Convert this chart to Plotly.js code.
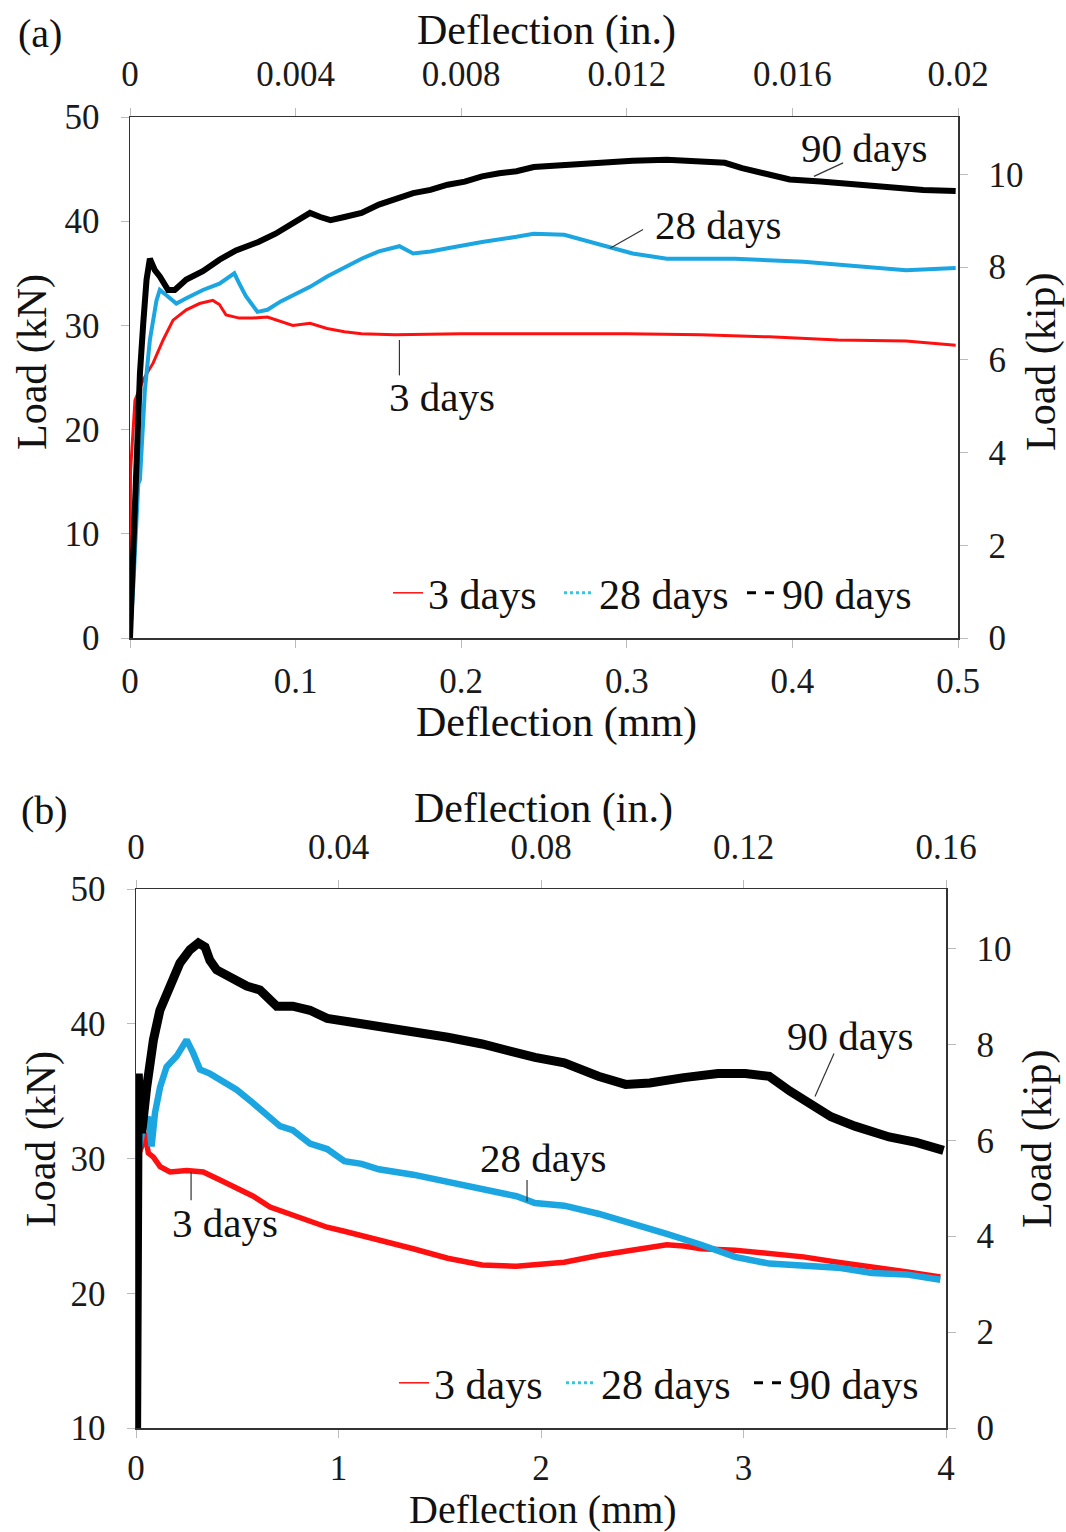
<!DOCTYPE html>
<html>
<head>
<meta charset="utf-8">
<script src="https://cdn.plot.ly/plotly-3.0.1.min.js"></script>
<style>html,body{margin:0;padding:0;background:#fff;}</style>
</head>
<body>
<div id="chart" style="width:1066px;height:1532px;"></div>
<script>
// ---------- Data: panel (a) ----------
const a_x_3d = [0, 0.0003, 0.003, 0.008, 0.014, 0.020, 0.026, 0.034, 0.042, 0.050, 0.054, 0.058, 0.066, 0.074, 0.083, 0.0983, 0.1087, 0.119, 0.1295, 0.1398, 0.16, 0.2, 0.25, 0.3, 0.3448, 0.386, 0.4275, 0.4686, 0.4986];
const a_y_3d = [0, 16, 22.8, 24.8, 26.4, 28.6, 30.5, 31.5, 32.1, 32.4, 32.0, 31.0, 30.7, 30.7, 30.8, 30.0, 30.2, 29.7, 29.4, 29.2, 29.1, 29.2, 29.2, 29.2, 29.1, 28.9, 28.6, 28.5, 28.1];

const a_x_28d = [0, 0.002, 0.005, 0.006, 0.009, 0.012, 0.016, 0.018, 0.022, 0.028, 0.034, 0.044, 0.054, 0.063, 0.066, 0.070, 0.077, 0.083, 0.091, 0.0983, 0.1087, 0.119, 0.1295, 0.1398, 0.1503, 0.1627, 0.171, 0.1814, 0.1918, 0.2126, 0.2334, 0.2438, 0.2622, 0.2787, 0.2911, 0.3035, 0.3242, 0.3653, 0.4067, 0.448, 0.4686, 0.4986];
const a_y_28d = [0, 5, 14.8, 15.2, 23.8, 28.6, 32.4, 33.4, 32.9, 32.1, 32.6, 33.4, 34.0, 35.0, 34.0, 32.8, 31.3, 31.5, 32.3, 32.9, 33.7, 34.7, 35.6, 36.4, 37.1, 37.6, 36.9, 37.1, 37.4, 38.0, 38.5, 38.8, 38.7, 38.0, 37.4, 36.9, 36.4, 36.4, 36.1, 35.6, 35.3, 35.5];

const a_x_90d = [0, 0.002, 0.004, 0.006, 0.008, 0.010, 0.012, 0.015, 0.018, 0.023, 0.027, 0.034, 0.044, 0.054, 0.064, 0.0775, 0.0879, 0.0983, 0.1087, 0.1149, 0.1211, 0.1295, 0.1398, 0.1503, 0.1606, 0.171, 0.1814, 0.1918, 0.2022, 0.2126, 0.223, 0.2334, 0.2438, 0.2622, 0.2828, 0.3035, 0.3242, 0.3447, 0.3592, 0.3696, 0.3861, 0.3984, 0.417, 0.4377, 0.4583, 0.479, 0.4986];
const a_y_90d = [0, 9.4, 19.0, 25.4, 30.2, 34.4, 36.4, 35.3, 34.7, 33.4, 33.4, 34.4, 35.2, 36.3, 37.2, 38.0, 38.8, 39.8, 40.8, 40.4, 40.1, 40.4, 40.8, 41.6, 42.2, 42.7, 43.0, 43.5, 43.8, 44.3, 44.6, 44.8, 45.2, 45.4, 45.6, 45.8, 45.9, 45.7, 45.6, 45.1, 44.4, 44.0, 43.8, 43.5, 43.2, 43.0, 42.9];

// ---------- Data: panel (b) ----------
const b_x_3d = [0, 0.005, 0.028, 0.044, 0.061, 0.086, 0.119, 0.168, 0.25, 0.332, 0.415, 0.497, 0.579, 0.662, 0.774, 0.859, 0.944, 1.029, 1.199, 1.369, 1.539, 1.709, 1.879, 1.97, 2.115, 2.283, 2.452, 2.621, 2.705, 2.79, 2.958, 3.127, 3.296, 3.465, 3.634, 3.802, 3.972];
const b_y_3d = [0, 30, 30.9, 31.9, 30.4, 30.1, 29.4, 29.0, 29.1, 29.0, 28.4, 27.8, 27.2, 26.4, 25.8, 25.4, 24.9, 24.6, 24.0, 23.3, 22.6, 22.1, 22.0, 22.1, 22.3, 22.8, 23.2, 23.6, 23.5, 23.3, 23.2, 23.0, 22.7, 22.3, 22.0, 21.6, 21.2];

const b_x_28d = [0, 0.005, 0.036, 0.061, 0.077, 0.094, 0.119, 0.151, 0.201, 0.25, 0.283, 0.316, 0.365, 0.431, 0.497, 0.579, 0.662, 0.711, 0.774, 0.859, 0.944, 1.029, 1.114, 1.199, 1.369, 1.539, 1.709, 1.879, 1.97, 2.115, 2.283, 2.452, 2.621, 2.79, 2.958, 3.127, 3.296, 3.465, 3.634, 3.802, 3.972];
const b_y_28d = [0, 30, 32.4, 33.1, 30.9, 33.4, 35.3, 36.8, 37.6, 38.8, 37.8, 36.6, 36.3, 35.7, 35.1, 34.1, 33.1, 32.4, 32.1, 31.1, 30.7, 29.8, 29.6, 29.2, 28.8, 28.3, 27.8, 27.2, 26.7, 26.5, 25.9, 25.2, 24.4, 23.6, 22.7, 22.2, 22.0, 21.9, 21.5, 21.4, 21.0];

const b_x_90d = [0, 0.005, 0.011, 0.02, 0.028, 0.053, 0.086, 0.118, 0.168, 0.217, 0.267, 0.308, 0.341, 0.365, 0.398, 0.464, 0.547, 0.612, 0.695, 0.774, 0.859, 0.944, 1.029, 1.199, 1.369, 1.539, 1.709, 1.879, 1.97, 2.115, 2.283, 2.418, 2.537, 2.705, 2.874, 3.009, 3.127, 3.229, 3.33, 3.432, 3.55, 3.719, 3.853, 3.988];
const b_y_90d = [0, 30, 36.3, 33.5, 31.9, 35.3, 38.8, 41.0, 43.0, 44.5, 45.5, 46.0, 45.7, 44.7, 44.0, 43.5, 42.8, 42.5, 41.3, 41.3, 41.0, 40.4, 40.2, 39.8, 39.5, 39.0, 38.5, 37.8, 37.5, 37.1, 36.1, 35.5, 35.6, 36.0, 36.3, 36.3, 36.1, 35.0, 34.1, 33.1, 32.4, 31.6, 31.2, 30.6];

// labels
const seriesNames = ["3 days", "28 days", "90 days"];
const panelLabels = ["(a)", "(b)"];
const xTitleMM = "Deflection (mm)";
const xTitleIn = "Deflection (in.)";
const yTitleKN = "Load (kN)";
const yTitleKip = "Load (kip)";

// ---------- Styling ----------
const W = 1066, H = 1532;
const FONT = "Liberation Serif, Times New Roman, serif";
const RED = "#ff1010", CYAN = "#1ba6e2", BLACK = "#000000";
const px = v => v / W;
const py = v => 1 - v / H;

function baseAxis(extra) {
  return Object.assign({
    showgrid: false, zeroline: false, showline: true,
    linecolor: "#333", linewidth: 1.5,
    ticks: "outside", ticklen: 8, tickcolor: "#bbbbbb", tickwidth: 1,
    tickfont: {family: FONT, size: 35, color: "#1a1a1a"},
    ticklabelstandoff: 14,
    fixedrange: true
  }, extra);
}

const traces = [
  // panel (a)
  {x: a_x_3d, y: a_y_3d, xaxis: "x", yaxis: "y", mode: "lines", line: {color: RED, width: 3}, showlegend: false},
  {x: a_x_28d, y: a_y_28d, xaxis: "x", yaxis: "y", mode: "lines", line: {color: CYAN, width: 4}, showlegend: false},
  {x: a_x_90d, y: a_y_90d, xaxis: "x", yaxis: "y", mode: "lines", line: {color: BLACK, width: 6}, showlegend: false},
  // panel (b)
  {x: b_x_3d, y: b_y_3d, xaxis: "x3", yaxis: "y3", mode: "lines", line: {color: RED, width: 5.5}, showlegend: false},
  {x: b_x_28d, y: b_y_28d, xaxis: "x3", yaxis: "y3", mode: "lines", line: {color: CYAN, width: 6.5}, showlegend: false},
  {x: b_x_90d, y: b_y_90d, xaxis: "x3", yaxis: "y3", mode: "lines", line: {color: BLACK, width: 9}, showlegend: false},
  // empty traces so the secondary (inch / kip) axes are drawn
  {x: [], y: [], xaxis: "x2", yaxis: "y", mode: "lines", showlegend: false},
  {x: [], y: [], xaxis: "x", yaxis: "y2", mode: "lines", showlegend: false},
  {x: [], y: [], xaxis: "x4", yaxis: "y3", mode: "lines", showlegend: false},
  {x: [], y: [], xaxis: "x3", yaxis: "y4", mode: "lines", showlegend: false},
  // legend entries (a)
  {x: [null], y: [null], xaxis: "x", yaxis: "y", mode: "lines", name: seriesNames[0], line: {color: RED, width: 1.5}, legend: "legend"},
  {x: [null], y: [null], xaxis: "x", yaxis: "y", mode: "lines", name: seriesNames[1], line: {color: "#33c7dd", width: 3, dash: "dot"}, legend: "legend2"},
  {x: [null], y: [null], xaxis: "x", yaxis: "y", mode: "lines", name: seriesNames[2], line: {color: BLACK, width: 3, dash: "dash"}, legend: "legend3"},
  // legend entries (b)
  {x: [null], y: [null], xaxis: "x3", yaxis: "y3", mode: "lines", name: seriesNames[0], line: {color: RED, width: 1.5}, legend: "legend4"},
  {x: [null], y: [null], xaxis: "x3", yaxis: "y3", mode: "lines", name: seriesNames[1], line: {color: "#33c7dd", width: 3, dash: "dot"}, legend: "legend5"},
  {x: [null], y: [null], xaxis: "x3", yaxis: "y3", mode: "lines", name: seriesNames[2], line: {color: BLACK, width: 3, dash: "dash"}, legend: "legend6"}
];

function legendAt(xpx, ypx) {
  return {
    orientation: "h", xanchor: "left", yanchor: "middle",
    x: px(xpx), y: py(ypx),
    bgcolor: "rgba(0,0,0,0)", borderwidth: 0,
    font: {family: FONT, size: 42, color: "#111"},
    itemclick: false, itemdoubleclick: false
  };
}

function txt(text, x, y, size, angle) {
  return {text: text, xref: "paper", yref: "paper", x: px(x), y: py(y),
    xanchor: "center", yanchor: "middle", showarrow: false,
    textangle: angle || 0, font: {family: FONT, size: size, color: "#111"}};
}

const annotations = [
  txt(panelLabels[0], 40, 33, 40),
  txt(xTitleIn, 546, 30, 42),
  txt(xTitleMM, 556, 722, 42),
  txt(yTitleKN, 32, 362, 42, -90),
  txt(yTitleKip, 1041, 362, 42, -90),
  txt("90 days", 864, 148, 41),
  txt("28 days", 718, 225, 41),
  txt("3 days", 442, 397, 41),
  txt(panelLabels[1], 44, 810, 40),
  txt(xTitleIn, 543, 808, 42),
  txt(xTitleMM, 543, 1509, 40),
  txt(yTitleKN, 41, 1139, 42, -90),
  txt(yTitleKip, 1037, 1139, 42, -90),
  txt("90 days", 850, 1036, 41),
  txt("28 days", 543, 1158, 41),
  txt("3 days", 225, 1223, 41)
];

function leader(xref, yref, x0, y0, x1, y1) {
  return {type: "line", xref: xref, yref: yref, x0: x0, y0: y0, x1: x1, y1: y1,
    line: {color: "#333", width: 1.2}};
}

const shapes = [
  leader("x", "y", 0.413, 44.3, 0.4306, 45.6),
  leader("x", "y", 0.2899, 37.4, 0.3098, 39.2),
  leader("x", "y", 0.1627, 28.6, 0.1627, 25.2),
  leader("x3", "y3", 3.353, 34.6, 3.447, 37.8),
  leader("x3", "y3", 1.931, 28.4, 1.931, 26.8),
  leader("x3", "y3", 0.272, 29.0, 0.272, 26.9)
];

const layout = {
  width: W, height: H,
  margin: {l: 0, r: 0, t: 0, b: 0},
  paper_bgcolor: "#ffffff", plot_bgcolor: "#ffffff",
  font: {family: FONT, color: "#111"},
  showlegend: true,
  xaxis: baseAxis({domain: [px(130), px(958)], range: [0, 0.5], tick0: 0, dtick: 0.1, anchor: "y", side: "bottom", ticklabelstandoff: 3}),
  xaxis2: baseAxis({overlaying: "x", anchor: "y", side: "top", range: [0, 0.02], tick0: 0, dtick: 0.004, ticklabelstandoff: 8}),
  yaxis: baseAxis({domain: [py(638), py(117)], range: [0, 50], tick0: 0, dtick: 10, anchor: "x", side: "left"}),
  yaxis2: baseAxis({overlaying: "y", anchor: "x", side: "right", range: [0, 11.24], tick0: 0, dtick: 2}),
  xaxis3: baseAxis({domain: [px(136), px(946)], range: [0, 4], tick0: 0, dtick: 1, anchor: "y3", side: "bottom", ticklabelstandoff: 0}),
  xaxis4: baseAxis({overlaying: "x3", anchor: "y3", side: "top", range: [0, 0.16], tick0: 0, dtick: 0.04, ticklabelstandoff: 7}),
  yaxis3: baseAxis({domain: [py(1428), py(889)], range: [10, 50], tick0: 10, dtick: 10, anchor: "x3", side: "left"}),
  yaxis4: baseAxis({overlaying: "y3", anchor: "x3", side: "right", range: [0, 11.24], tick0: 0, dtick: 2}),
  legend: legendAt(388, 593),
  legend2: legendAt(559, 593),
  legend3: legendAt(742, 593),
  legend4: legendAt(394, 1383),
  legend5: legendAt(561, 1383),
  legend6: legendAt(749, 1383),
  annotations: annotations,
  shapes: shapes
};

Plotly.newPlot("chart", traces, layout, {staticPlot: true, displayModeBar: false});
</script>
</body>
</html>
